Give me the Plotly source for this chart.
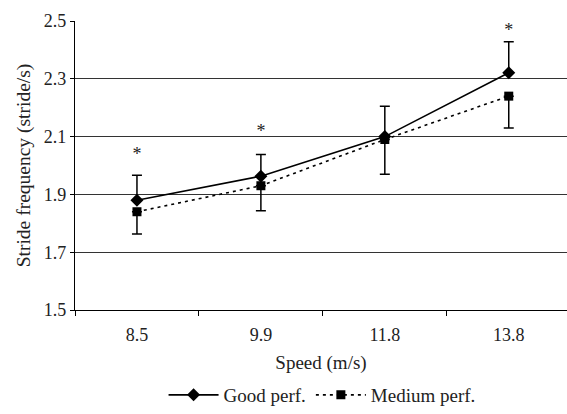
import plotly.graph_objects as go

speeds = ["8.5", "9.9", "11.8", "13.8"]
good = [1.88, 1.963, 2.10, 2.321]
good_err_plus = [0.086, 0.075, 0.105, 0.107]
medium = [1.84, 1.930, 2.09, 2.240]
medium_err_minus = [0.077, 0.087, 0.12, 0.11]
star_speeds = ["8.5", "9.9", "13.8"]
star_y = [2.035, 2.115, 2.465]
y_ticks = [1.5, 1.7, 1.9, 2.1, 2.3, 2.5]

FONT = "Liberation Serif, Times New Roman, serif"
FS = 18

fig = go.Figure()
fig.add_trace(go.Scatter(
    x=speeds, y=good, name="Good perf.", mode="lines+markers",
    line=dict(color="black", width=1.6),
    marker=dict(symbol="diamond", size=10, color="black"),
    error_y=dict(type="data", symmetric=False, array=good_err_plus,
                 arrayminus=[0] * len(good), color="black", thickness=1.5, width=5),
))
fig.add_trace(go.Scatter(
    x=speeds, y=medium, name="Medium perf.", mode="lines+markers",
    line=dict(color="black", width=1.6, dash="3px,4px"),
    marker=dict(symbol="square", size=9, color="black"),
    error_y=dict(type="data", symmetric=False, array=[0] * len(medium),
                 arrayminus=medium_err_minus, color="black", thickness=1.5, width=5),
))
fig.add_trace(go.Scatter(
    x=star_speeds, y=star_y, mode="text", text=["*"] * len(star_y),
    textfont=dict(family=FONT, size=18, color="#222"), showlegend=False,
    hoverinfo="skip",
))

fig.update_layout(
    width=567, height=414,
    margin=dict(l=75, r=0, t=21, b=104, autoexpand=False),
    paper_bgcolor="white", plot_bgcolor="white",
    font=dict(family=FONT, size=FS, color="#222"),
    showlegend=True,
    legend=dict(orientation="h", xref="container", yref="container",
                x=0.568, xanchor="center", y=-0.032, yanchor="bottom",
                font=dict(family=FONT, size=19, color="#222"), itemwidth=50,
                traceorder="normal"),
)
fig.update_xaxes(
    type="category", range=[-0.5, 3.47], tickson="boundaries", automargin=False,
    ticks="outside", ticklen=5, tickcolor="black", ticklabelstandoff=8,
    showline=True, linecolor="black", linewidth=1.2, showgrid=False,
    title=dict(text="Speed (m/s)", font=dict(family=FONT, size=19), standoff=11),
    tickfont=dict(family=FONT, size=FS),
)
fig.update_yaxes(
    range=[1.5, 2.5], tickvals=y_ticks, ticktext=[f"{v:.1f}" for v in y_ticks],
    automargin=False,
    ticks="outside", ticklen=4, tickcolor="black",
    showline=True, linecolor="black", linewidth=1.2,
    showgrid=True, gridcolor="#333", gridwidth=1, zeroline=False,
    title=dict(text="Stride frequency (stride/s)", font=dict(family=FONT, size=19.5), standoff=7),
    tickfont=dict(family=FONT, size=FS),
)
fig.write_html("out.html", post_script="document.body.style.margin='0';",
               config={"displayModeBar": False})
